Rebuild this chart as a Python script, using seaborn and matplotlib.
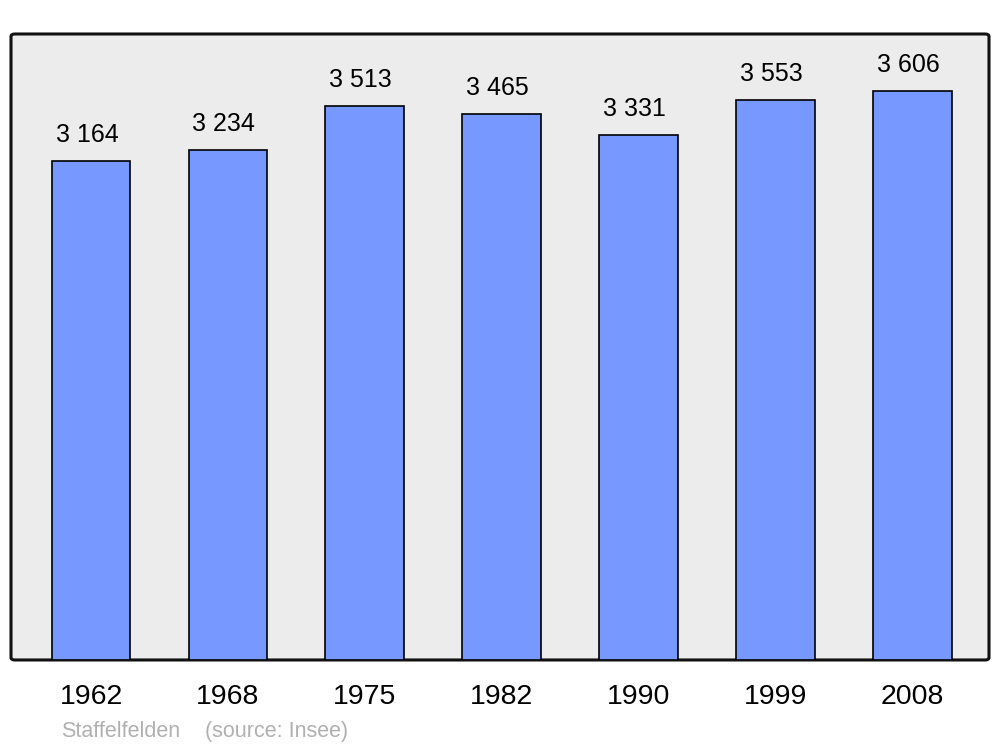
import pandas as pd
import seaborn as sns
import matplotlib.pyplot as plt
from matplotlib.patches import FancyBboxPatch

years = ['1962', '1968', '1975', '1982', '1990', '1999', '2008']
population = [3164, 3234, 3513, 3465, 3331, 3553, 3606]
labels = ['3 164', '3 234', '3 513', '3 465', '3 331', '3 553', '3 606']

df = pd.DataFrame({'year': years, 'pop': population})

sns.set_theme(style='white')
plt.rcParams['font.family'] = ['Liberation Sans', 'DejaVu Sans']

fig = plt.figure(figsize=(10, 7.47), dpi=100)
ax = fig.add_axes([0.011, 0.1165, 0.978, 0.838])

sns.barplot(data=df, x='year', y='pop', color='#7799ff', saturation=1,
            width=0.575, edgecolor='black', linewidth=1.2, ax=ax, zorder=3)

# rounded frame instead of spines
for s in ax.spines.values():
    s.set_visible(False)
ax.patch.set_visible(False)
frame = FancyBboxPatch((0, 0), 1, 1, boxstyle='round,pad=0,rounding_size=0.004',
                       transform=ax.transAxes, facecolor='#ececec',
                       edgecolor='#111111', linewidth=2.2, zorder=0, clip_on=False)
ax.add_patch(frame)

ax.set_xlim(-0.585, 6.56)
ax.set_ylim(0, 3970)
ax.set_yticks([])
ax.set_xlabel('')
ax.set_ylabel('')
ax.tick_params(axis='x', length=0, labelsize=20.5, pad=17, colors='black')

for i, (v, lab) in enumerate(zip(population, labels)):
    ax.annotate(lab, xy=(i, v), xytext=(-3, 10), textcoords='offset points',
                ha='center', va='bottom', fontsize=18, color='black')

fig.text(0.061, 0.0135, 'Staffelfelden', fontsize=15.5, color='#b0b0b0')
fig.text(0.205, 0.0135, '(source: Insee)', fontsize=15.5, color='#b0b0b0')

plt.savefig('out.png', dpi=100)
